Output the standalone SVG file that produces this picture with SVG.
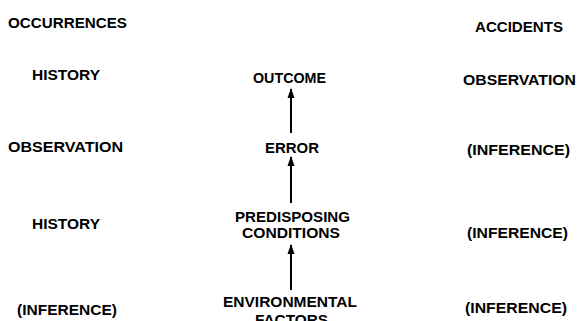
<svg xmlns="http://www.w3.org/2000/svg" width="579" height="321" viewBox="0 0 579 321">
<defs>
<style>
text{font-family:"Liberation Sans",Arial,sans-serif;font-weight:bold;font-size:15px;fill:#000;text-anchor:middle}
.ln{stroke:#000;stroke-width:2;fill:none}
</style>
<marker id="ah" markerWidth="10" markerHeight="8" refX="9" refY="4" orient="auto" markerUnits="userSpaceOnUse" viewBox="0 0 10 8">
<path d="M0,0.5 L10,4 L0,7.5 Z" fill="#000"/>
</marker>
</defs>
<rect width="579" height="321" fill="#fff"/>
<g id="headers">
<text x="67.5" y="28" textLength="119" lengthAdjust="spacingAndGlyphs">OCCURRENCES</text>
<text x="519" y="32" textLength="88" lengthAdjust="spacingAndGlyphs">ACCIDENTS</text>
</g>
<g id="left-column">
<text x="66" y="80" textLength="68" lengthAdjust="spacingAndGlyphs">HISTORY</text>
<text x="65.5" y="152" textLength="115" lengthAdjust="spacingAndGlyphs">OBSERVATION</text>
<text x="66" y="229" textLength="68" lengthAdjust="spacingAndGlyphs">HISTORY</text>
<text x="67" y="315" textLength="100" lengthAdjust="spacingAndGlyphs">(INFERENCE)</text>
</g>
<g id="right-column">
<text x="519.5" y="85" textLength="113" lengthAdjust="spacingAndGlyphs">OBSERVATION</text>
<text x="518.5" y="155" textLength="103" lengthAdjust="spacingAndGlyphs">(INFERENCE)</text>
<text x="517.5" y="238" textLength="101" lengthAdjust="spacingAndGlyphs">(INFERENCE)</text>
<text x="516" y="313" textLength="102" lengthAdjust="spacingAndGlyphs">(INFERENCE)</text>
</g>
<g id="outcome"><text x="289.5" y="83" textLength="73" lengthAdjust="spacingAndGlyphs">OUTCOME</text></g>
<g id="error"><text x="292" y="153" textLength="54" lengthAdjust="spacingAndGlyphs">ERROR</text></g>
<g id="predisposing">
<text x="292.5" y="222" textLength="115" lengthAdjust="spacingAndGlyphs">PREDISPOSING</text>
<text x="291" y="238" textLength="98" lengthAdjust="spacingAndGlyphs">CONDITIONS</text>
</g>
<g id="environmental">
<text x="290" y="307" textLength="134" lengthAdjust="spacingAndGlyphs">ENVIRONMENTAL</text>
<text x="291.5" y="325" textLength="73" lengthAdjust="spacingAndGlyphs">FACTORS</text>
</g>
<g id="connectors">
<line class="ln" x1="291" y1="133" x2="291" y2="89" marker-end="url(#ah)"/>
<line class="ln" x1="291" y1="203" x2="291" y2="157" marker-end="url(#ah)"/>
<line class="ln" x1="291" y1="290" x2="291" y2="245" marker-end="url(#ah)"/>
</g>
</svg>
